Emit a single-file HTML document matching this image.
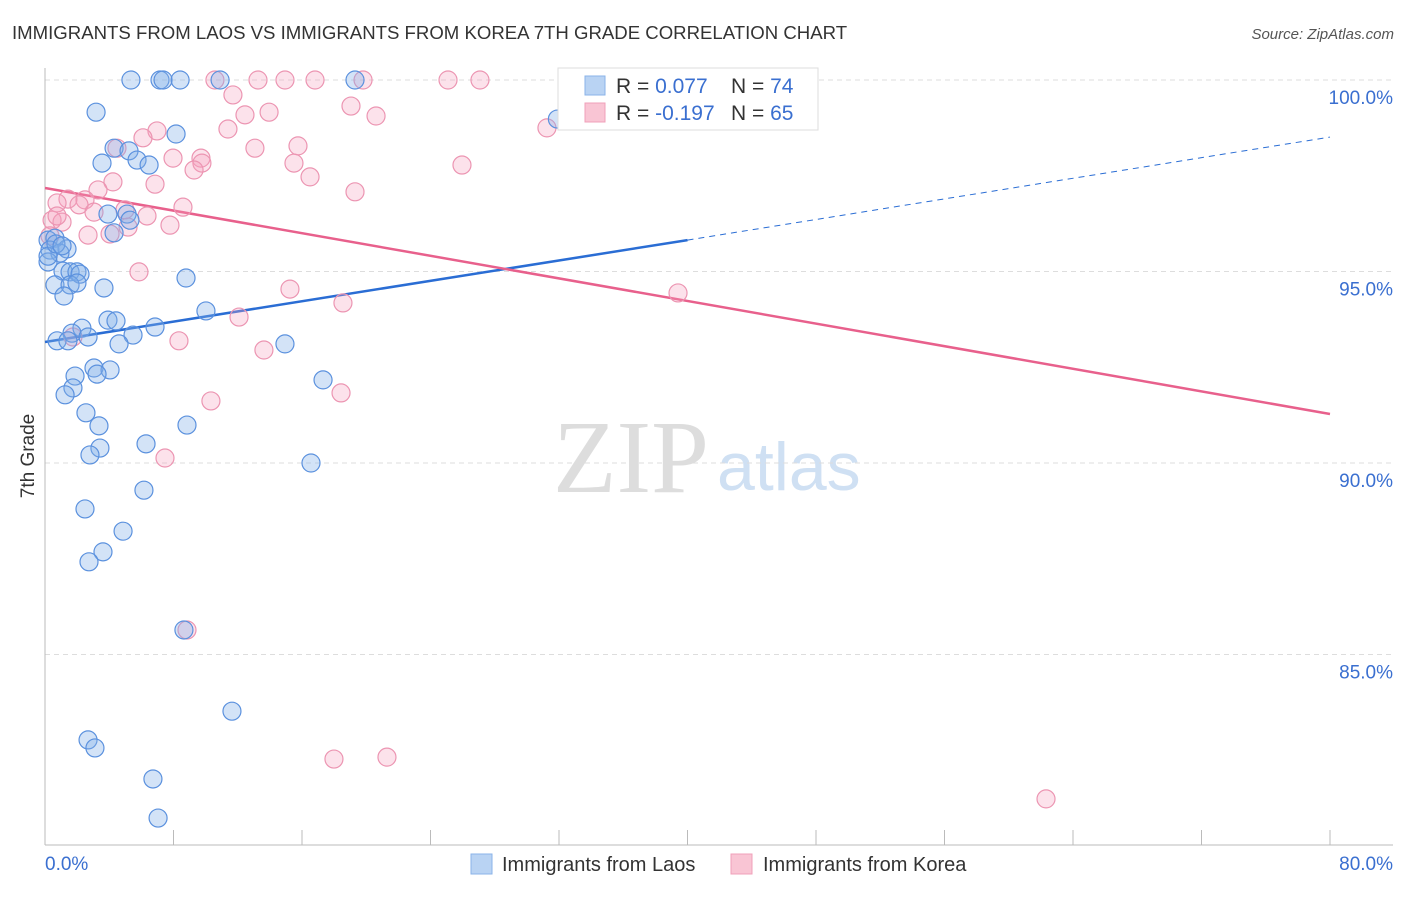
<!DOCTYPE html>
<html><head><meta charset="utf-8"><style>
body{margin:0;background:#fff;font-family:"Liberation Sans",sans-serif;}
</style></head><body>
<svg id="chart" width="1406" height="892" xmlns="http://www.w3.org/2000/svg" font-family="Liberation Sans, sans-serif">
<text x="12" y="39" font-size="18.6" fill="#333">IMMIGRANTS FROM LAOS VS IMMIGRANTS FROM KOREA 7TH GRADE CORRELATION CHART</text>
<text x="1394" y="39" font-size="15" fill="#555" font-style="italic" text-anchor="end">Source: ZipAtlas.com</text>
<text x="553" y="492" font-size="104" fill="#ddd" style="font-family:'Liberation Serif',serif">ZIP</text>
<text x="717" y="490" font-size="68" fill="#cfe0f3">atlas</text>
<g id="grid"></g>
<g id="axes"></g>
<g id="lines"></g>
<g id="pts"></g>
<text transform="translate(34,456) rotate(-90)" font-size="19" fill="#333" text-anchor="middle">7th Grade</text>
<g>
<rect x="558" y="68" width="260" height="62" fill="#fff" stroke="#ddd"/>
<rect x="585" y="76" width="20" height="19" fill="#b9d3f3" stroke="#8ab3e8"/>
<rect x="585" y="103" width="20" height="19" fill="#f9c5d4" stroke="#f0a0ba"/>
<text x="616" y="93" font-size="21" fill="#333">R = <tspan fill="#3a6fd0">0.077</tspan></text>
<text x="731" y="93" font-size="21" fill="#333">N = <tspan fill="#3a6fd0">74</tspan></text>
<text x="616" y="120" font-size="21" fill="#333">R = <tspan fill="#3a6fd0">-0.197</tspan></text>
<text x="731" y="120" font-size="21" fill="#333">N = <tspan fill="#3a6fd0">65</tspan></text>
</g>
<g>
<rect x="471" y="854" width="21" height="20" fill="#b9d3f3" stroke="#8ab3e8"/>
<text x="502" y="871" font-size="20" fill="#333">Immigrants from Laos</text>
</g>
<g>
<rect x="731" y="854" width="21" height="20" fill="#f9c5d4" stroke="#f0a0ba"/>
<text x="763" y="871" font-size="20" fill="#333">Immigrants from Korea</text>
</g>
</svg>
<script>
const laosX=[5.35,7.16,7.35,8.41,10.9,19.3,34.1,3.18,31.9,8.16,4.30,5.23,5.73,6.48,3.55,3.92,5.11,5.29,4.30,0.19,0.62,0.31,1.37,0.93,0.19,1.12,1.56,1.99,2.18,0.62,1.56,1.99,3.67,1.18,8.78,3.92,4.42,10.02,6.85,2.30,1.68,2.68,5.48,0.75,1.43,4.61,14.94,3.05,4.05,3.24,1.87,17.31,1.74,1.25,2.55,3.36,8.84,6.29,3.42,2.80,16.56,6.16,2.49,4.86,3.61,2.74,8.65,11.64,2.68,3.11,6.72,7.04,0.19,0.68,1.06];
const laosY=[100,100,100,100,100,100,100,99.16,98.98,98.59,98.22,98.15,97.91,97.78,97.83,96.5,96.5,96.34,96.01,95.82,95.87,95.56,95.59,95.48,95.25,95.01,94.99,94.99,94.93,94.65,94.65,94.7,94.57,94.36,94.83,93.73,93.71,93.97,93.55,93.52,93.39,93.29,93.34,93.19,93.19,93.11,93.11,92.48,92.43,92.32,92.27,92.17,91.96,91.78,91.31,90.97,90.99,90.5,90.39,90.21,90.0,89.29,88.8,88.22,87.68,87.42,85.64,83.52,82.77,82.56,81.75,80.73,95.4,95.72,95.67];
const koreaX=[10.58,13.26,14.94,16.81,19.8,25.09,27.08,39.2,11.7,19.05,13.95,12.45,20.61,11.39,6.97,6.10,31.25,15.75,4.48,13.07,7.97,9.71,9.77,9.28,15.5,16.5,25.96,4.23,3.30,6.85,19.3,1.43,2.49,2.12,0.75,8.59,3.05,4.98,6.35,0.44,1.06,7.78,2.68,4.05,5.17,0.31,5.85,15.25,39.41,18.55,12.08,8.34,1.74,13.63,10.33,18.43,7.47,8.84,17.99,21.29,62.32,0.75];
const koreaY=[100,100,100,100,100,100,100,100,99.61,99.32,99.16,99.09,99.06,98.72,98.67,98.49,98.75,98.28,98.22,98.22,97.96,97.96,97.83,97.65,97.83,97.47,97.78,97.34,97.13,97.28,97.08,96.89,96.87,96.74,96.79,96.68,96.55,96.61,96.45,96.34,96.29,96.21,95.95,95.98,96.16,95.93,94.99,94.54,94.44,94.18,93.81,93.19,93.29,92.95,91.62,91.83,90.13,85.64,82.27,82.32,81.23,96.45];
const trendLaos=[93.16,95.82,98.51]; // at x=0, 40, 80
const trendKorea=[97.18,91.28]; // at x=0, 80
const yTicks=[100,95,90,85];
const xTickVals=[0,8,16,24,32,40,48,56,64,72,80];
const NS='http://www.w3.org/2000/svg';
const sx=v=>45+v*(1285/80);
const sy=v=>80+(100-v)*38.3;
function mk(tag,attrs,parent){const e=document.createElementNS(NS,tag);for(const k in attrs)e.setAttribute(k,attrs[k]);document.getElementById(parent).appendChild(e);return e;}
yTicks.forEach(t=>{
  const l=mk('line',{x1:45,x2:1393,y1:sy(t),y2:sy(t),stroke:'#ddd','stroke-dasharray':'5,4'},'grid');
  
  
  const tx=mk('text',{x:1393,y:sy(t)+24,'font-size':19,fill:'#3a6fd0','text-anchor':'end'},'grid');
  tx.textContent=t.toFixed(1)+'%';
  
  
});
const ax=mk('line',{x1:45,x2:45,y1:68,y2:845,stroke:'#bbb'},'axes');


const bx=mk('line',{x1:45,x2:1393,y1:845,y2:845,stroke:'#bbb'},'axes');


xTickVals.forEach(t=>{
  const l=mk('line',{x1:sx(t),x2:sx(t),y1:830,y2:845,stroke:'#bbb'},'axes');
  
  
});
[[0,'0.0%','start',45],[80,'80.0%','end',1393]].forEach(d=>{
  const t=mk('text',{x:d[3],y:870,'font-size':19,fill:'#3a6fd0','text-anchor':d[2]},'axes');
  t.textContent=d[1];
  
  
});
const l1=mk('line',{x1:sx(0),y1:sy(trendLaos[0]),x2:sx(40),y2:sy(trendLaos[1]),stroke:'#2a6dd4','stroke-width':2.5},'lines');


const l2=mk('line',{x1:sx(40),y1:sy(trendLaos[1]),x2:sx(80),y2:sy(trendLaos[2]),stroke:'#2a6dd4','stroke-width':1,'stroke-dasharray':'6,5'},'lines');


const l3=mk('line',{x1:sx(0),y1:sy(trendKorea[0]),x2:sx(80),y2:sy(trendKorea[1]),stroke:'#e8608c','stroke-width':2.5},'lines');


koreaX.forEach((x,i)=>{
  const c=mk('circle',{cx:sx(x),cy:sy(koreaY[i]),r:9,fill:'rgba(244,160,188,0.3)',stroke:'#ec95b2','stroke-width':1.2},'pts');
  
  
});
laosX.forEach((x,i)=>{
  const c=mk('circle',{cx:sx(x),cy:sy(laosY[i]),r:9,fill:'rgba(130,175,232,0.35)',stroke:'#5b91de','stroke-width':1.2},'pts');
  
  
});
</script>
</body></html>
